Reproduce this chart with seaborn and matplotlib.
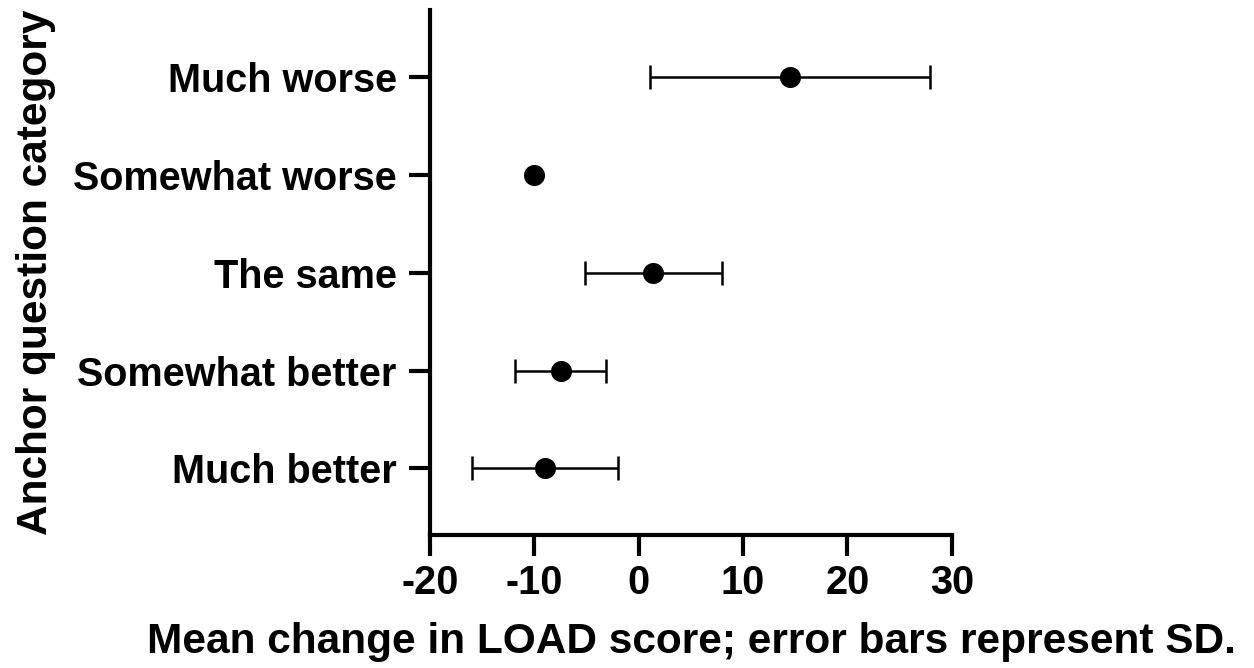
import pandas as pd
import matplotlib
matplotlib.use("Agg")
import matplotlib.pyplot as plt
import seaborn as sns

# Data (mean change and SD per anchor category)
categories = ["Much worse", "Somewhat worse", "The same", "Somewhat better", "Much better"]
means = [14.5, -10.0, 1.4, -7.5, -9.0]
sds = [13.4, 0.0, 6.6, 4.35, 7.0]

df = pd.DataFrame({"category": categories, "mean": means, "sd": sds})

sns.set_style("ticks")
plt.rcParams["font.family"] = ["Liberation Sans", "DejaVu Sans"]
plt.rcParams["font.weight"] = "bold"
plt.rcParams["axes.unicode_minus"] = False
plt.rcParams["text.color"] = "black"
plt.rcParams["axes.labelcolor"] = "black"

fig = plt.figure(figsize=(12.54, 6.68), dpi=100)
ax = fig.add_axes([0.343, 0.199, 0.416, 0.786])

# points first so the category order follows the list
sns.scatterplot(data=df, x="mean", y="category", ax=ax, color="black",
                s=230, edgecolor="black", linewidth=0, zorder=3)

# error bars (only where an SD was shown)
df_err = df[df["sd"] > 0]
ax.errorbar(df_err["mean"], df_err["category"], xerr=df_err["sd"], fmt="none",
            ecolor="black", elinewidth=1.8, capsize=8.5, capthick=1.8, zorder=2)

ax.set_xlim(-20, 30)
ax.set_xticks([-20, -10, 0, 10, 20, 30])
ax.set_ylim(len(categories) - 0.32, -0.68)

sns.despine(ax=ax)
for side in ["left", "bottom"]:
    ax.spines[side].set_linewidth(3.0)
    ax.spines[side].set_color("black")

ax.tick_params(axis="x", length=15, width=3.0, pad=6, labelsize=28.5, colors="black")
ax.tick_params(axis="y", length=15, width=3.0, pad=9, labelsize=28.5, colors="black")
for lbl in ax.get_xticklabels() + ax.get_yticklabels():
    lbl.set_fontweight("bold")

ax.set_xlabel("Mean change in LOAD score; error bars represent SD.",
              fontsize=30.5, fontweight="bold")
ax.set_ylabel("Anchor question category", fontsize=30.5, fontweight="bold")
ax.xaxis.set_label_coords(0.5, -0.166)
ax.yaxis.set_label_coords(-0.718, 0.5)

fig.savefig("out.png", dpi=100)
